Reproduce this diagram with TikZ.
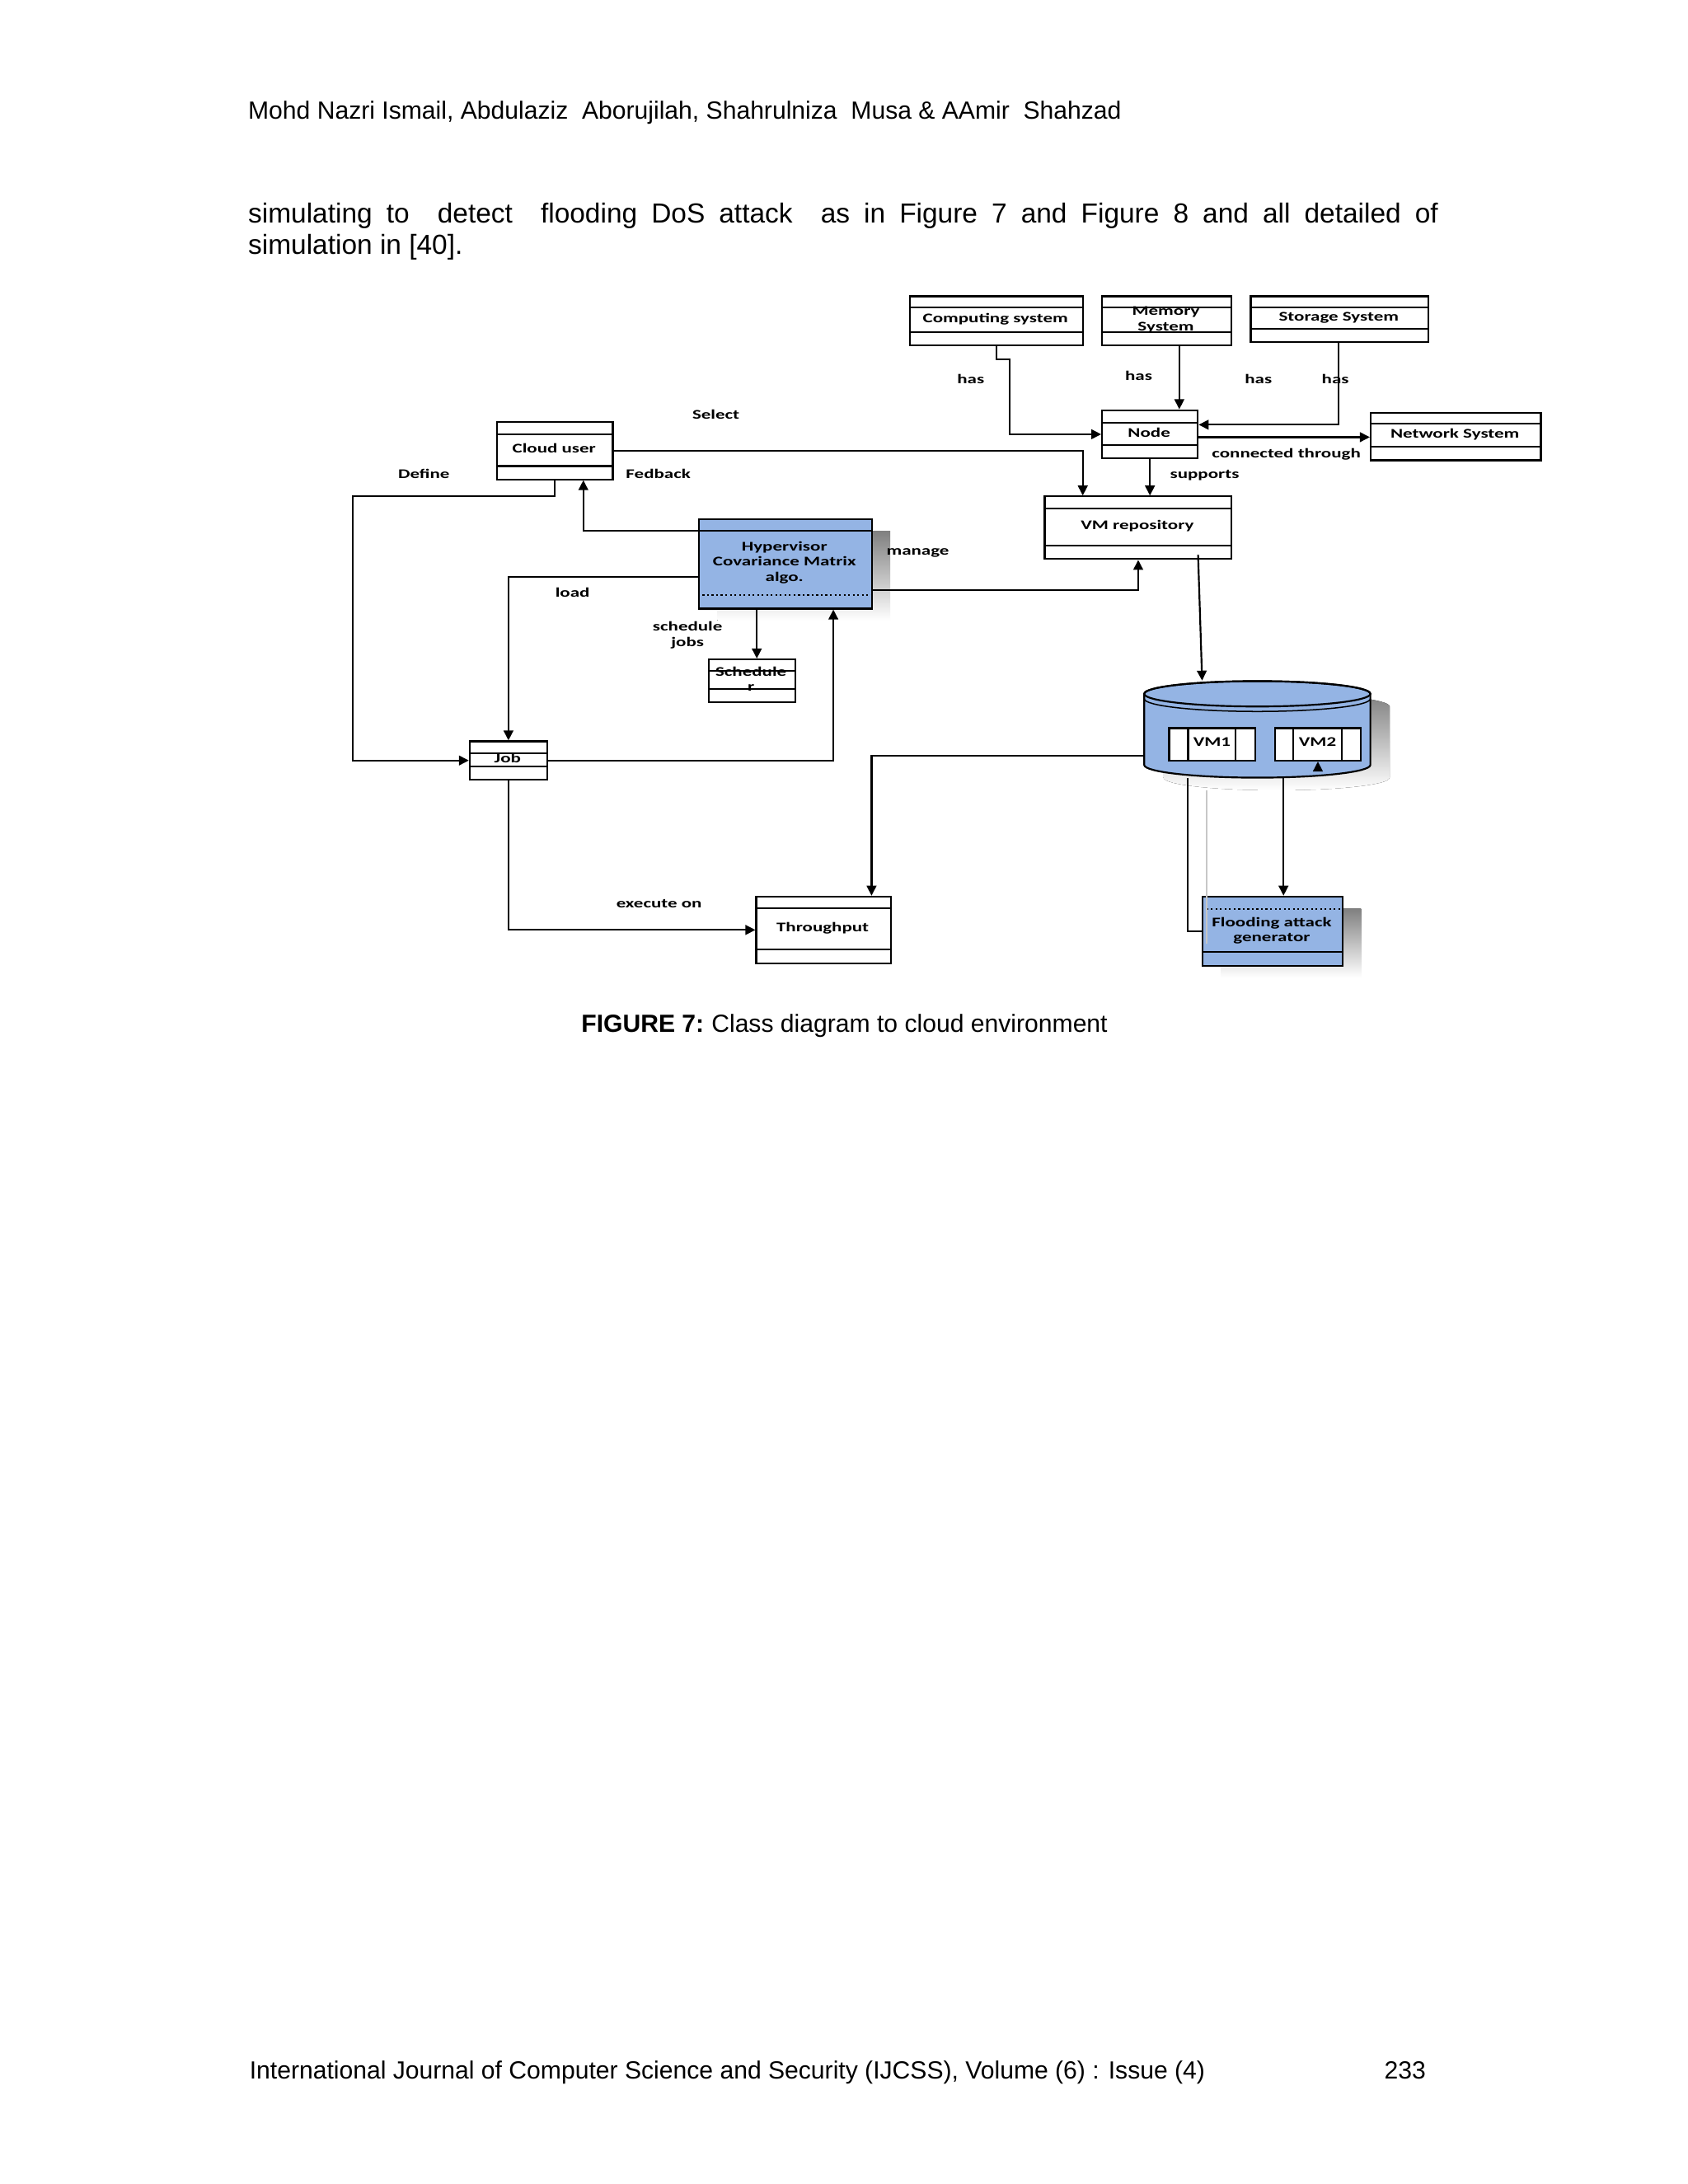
\documentclass[tikz,border=0pt]{standalone}
\usepackage{fontspec}
\setmainfont{Liberation Sans}
\newfontfamily\diagfont[FakeStretch=1.43]{Carlito}
\usetikzlibrary{arrows.meta}
\definecolor{hatch}{RGB}{148,180,228}
\definecolor{shade}{RGB}{192,192,192}
\tikzset{
  ln/.style={line width=0.65pt},
  arr/.style={ln,-{Triangle[length=3.6pt,width=3.5pt]}},
  lbl/.style={font=\diagfont\bfseries\fontsize{4.8}{5.5}\selectfont, inner sep=0pt, align=center},
  lbl1/.style={lbl, text height=3.2pt, text depth=1.0pt},
  umlframe/.style={draw, line width=0.65pt, fill=white, inner sep=0pt, anchor=north west},
  pagetext/.style={inner sep=0pt, anchor=base west}
}
% name, x, y, w, h, d1, d2, fill
\newcommand{\umlbox}[8]{%
  \node[umlframe, fill=#8, minimum width=#4pt, minimum height=#5pt] (#1) at (#2,#3) {};
  \draw[ln] ([yshift=-#6pt]#1.north west) -- ([yshift=-#6pt]#1.north east);
  \draw[ln] ([yshift=-#7pt]#1.north west) -- ([yshift=-#7pt]#1.north east);
}
\begin{document}
\begin{tikzpicture}[x=1pt,y=-1pt]
\useasboundingbox[fill=white] (0,0) rectangle (612,792);

% ---------- page text ----------
\node[pagetext, font=\fontsize{9}{11}\selectfont] (hdr) at (89.8,43.3)
  {Mohd Nazri Ismail, Abdulaziz~ Aborujilah, Shahrulniza~ Musa \& AAmir~ Shahzad};
\node[pagetext, font=\fontsize{10}{11.2}\selectfont] (body1) at (89.8,80.9)
  {\makebox[431.5pt][s]{simulating to~ detect~ flooding DoS attack~ as in Figure 7 and Figure 8 and all detailed of}};
\node[pagetext, font=\fontsize{10}{11.2}\selectfont] (body2) at (89.8,92.1)
  {simulation in [40].};
\node[inner sep=0pt, anchor=base, font=\fontsize{9}{11}\selectfont] (cap) at (306.2,374.4)
  {\textbf{FIGURE 7:}\kern0.3em Class diagram to cloud environment};
\node[pagetext, font=\fontsize{9}{11}\selectfont] (foot) at (90.3,754)
  {International Journal of Computer Science and Security (IJCSS), Volume (6) : Issue (4)};
\node[inner sep=0pt, anchor=base east, font=\fontsize{9}{11}\selectfont] (pg) at (517.2,754) {233};

% ---------- shadows ----------
\fill[shade] (260.1,192.5) rectangle (322.8,225.0);
\fill[shade] (442.8,329.4) rectangle (493.5,354.5);
\begin{scope}[shift={(7,4.6)}]
  \fill[shade] (414.9,251.6) -- (414.9,277.4)
     arc[start angle=180, end angle=360, x radius=41pt, y radius=4.6pt]
     -- (496.9,251.6)
     arc[start angle=0, end angle=180, x radius=41pt, y radius=4.6pt] -- cycle;
\end{scope}

% ---------- cylinder ----------
\filldraw[ln, fill=hatch] (414.9,251.6) -- (414.9,277.4)
   arc[start angle=180, end angle=360, x radius=41pt, y radius=4.6pt]
   -- (496.9,251.6)
   arc[start angle=0, end angle=180, x radius=41pt, y radius=4.6pt] -- cycle;
\draw[ln] (455.9,251.6) ellipse[x radius=41pt, y radius=4.6pt];
\draw[line width=0.45pt] (414.9,253.4) arc[start angle=180, end angle=360, x radius=41pt, y radius=4.6pt];
\node[inner sep=0pt, minimum width=82pt, minimum height=35pt] (cyl) at (455.9,264.5) {};

% VM boxes
\node[umlframe, minimum width=31.3pt, minimum height=11.8pt] (vm1) at (423.6,263.7) {};
\draw[ln] ([xshift=7.2pt]vm1.north west) -- ([xshift=7.2pt]vm1.south west);
\draw[ln] ([xshift=24.5pt]vm1.north west) -- ([xshift=24.5pt]vm1.south west);
\node[lbl1] (vm1t) at (439.45,269.6) {VM1};
\node[umlframe, minimum width=31.1pt, minimum height=11.8pt] (vm2) at (462.0,263.7) {};
\draw[ln] ([xshift=7.0pt]vm2.north west) -- ([xshift=7.0pt]vm2.south west);
\draw[ln] ([xshift=24.5pt]vm2.north west) -- ([xshift=24.5pt]vm2.south west);
\node[lbl1] (vm2t) at (477.75,269.6) {VM2};

% ---------- class boxes ----------
\umlbox{comp}{329.5}{107.1}{62.9}{17.9}{4.5}{13.4}{white}
\umlbox{mem}{399.3}{107.1}{46.9}{17.9}{4.5}{13.4}{white}
\umlbox{stor}{453.2}{107.1}{64.5}{16.6}{4.5}{12.2}{white}
\umlbox{node}{399.3}{148.4}{34.7}{17.5}{4.8}{13.0}{white}
\umlbox{net}{496.7}{149.4}{61.7}{17.2}{4.2}{12.5}{white}
\umlbox{vmrepo}{378.5}{179.7}{67.8}{22.7}{4.6}{18.1}{white}
\umlbox{cloud}{179.9}{152.8}{42.0}{20.7}{4.6}{16.2}{white}
\umlbox{sched}{256.6}{238.8}{31.4}{15.4}{4.4}{11.0}{white}
\umlbox{job}{170.0}{268.5}{28.1}{13.9}{4.7}{9.4}{white}
\umlbox{thr}{273.9}{324.8}{48.8}{24.2}{4.6}{19.6}{white}

% hypervisor (filled)
\node[umlframe, fill=hatch, minimum width=62.7pt, minimum height=32.5pt] (hyper) at (253.1,187.9) {};
\draw[ln] ([yshift=-4.5pt]hyper.north west) -- ([yshift=-4.5pt]hyper.north east);
\draw[ln, densely dotted] ([yshift=-28pt]hyper.north west) -- ([yshift=-28pt]hyper.north east);
% flooding generator (filled)
\node[umlframe, fill=hatch, minimum width=50.7pt, minimum height=25.1pt] (flood) at (435.8,324.8) {};
\draw[ln, densely dotted] ([yshift=-4.8pt]flood.north west) -- ([yshift=-4.8pt]flood.north east);
\draw[ln] ([yshift=-20.4pt]flood.north west) -- ([yshift=-20.4pt]flood.north east);

% ---------- box texts ----------
\node[lbl1] (compt) at (360.95,116.05) {Computing system};
\node[lbl] (memt) at (422.75,116.0) {Memory\\System};
\node[lbl1] (stort) at (485.45,115.45) {Storage System};
\node[lbl1] (nodet) at (416.65,157.3) {Node};
\node[lbl1] (nett) at (527.55,157.75) {Network System};
\node[lbl1] (vmrepot) at (412.4,191.05) {VM repository};
\node[lbl1] (cloudt) at (200.9,163.2) {Cloud user};
\node[lbl] (hypert) at (284.45,204.0) {Hypervisor\\Covariance Matrix\\algo.};
\node[lbl] (schedt) at (272.3,246.3) {Schedule\\r};
\node[lbl1] (jobt) at (184.05,275.55) {Job};
\node[lbl1] (thrt) at (298.3,336.9) {Throughput};
\node[lbl] (floodt) at (461.15,337.45) {Flooding attack\\generator};

% ---------- connectors ----------
\draw[arr] ([xshift=0.15pt]comp.south) -- ++(0,4.7) -| ([xshift=-33.1pt]node.west) -- (node.west);
\draw[arr] ([xshift=4.55pt]mem.south) -- ([xshift=4.55pt]mem.south |- node.north);
\draw[arr] ([xshift=-0.35pt]stor.south) |- ([yshift=3.45pt]node.east);
\draw[arr] ([yshift=-1.05pt]node.east) -- ([yshift=-1.05pt]node.east -| net.west);
\draw[arr] (node.south) -- (node.south |- vmrepo.north);
\draw[arr] (cloud.east) -| ([xshift=-20.1pt]vmrepo.north);
\draw[arr] (cloud.south) -- ++(0,5.8) -| ([xshift=-42.2pt]job.west) -- (job.west);
\draw[arr] ([yshift=-4.5pt]hyper.north west) -| ([xshift=10.3pt]cloud.south);
\draw[arr] ([yshift=-21.4pt]hyper.north west) -| (job.north);
\draw[arr] ([yshift=-26.1pt]hyper.north east) -| (vmrepo.south);
\draw[arr] ([xshift=-10.35pt]hyper.south) -- ([xshift=-10.35pt]hyper.south |- sched.north);
\draw[arr] (job.east) -| ([xshift=17.4pt]hyper.south);
\draw[arr] (job.south) |- (thr.west);
\draw[arr] ([xshift=21.7pt,yshift=1.9pt]vmrepo.south) -- ([xshift=-20pt]cyl.north);
\draw[arr] ([yshift=-9.5pt]cyl.west) -| ([xshift=17.4pt]thr.north);
\draw[arr] ([xshift=9.5pt]cyl.south) -- ([xshift=9.5pt]cyl.south |- flood.north);
\draw[arr] ([yshift=-3.5pt]vm2.south) -- (vm2.south);
\draw[ln] ([xshift=-25.3pt]cyl.south) |- (flood.west);
\draw[line width=0.45pt, black!22] ([xshift=-18.4pt,yshift=-4.4pt]cyl.south) -- ++(0,55.6);

% ---------- connector labels ----------
\node[lbl1] (has1) at (352,138) {has};
\node[lbl1] (has2) at (412.9,136.7) {has};
\node[lbl1] (has3) at (456.3,138) {has};
\node[lbl1] (has4) at (484.2,138) {has};
\node[lbl1] (conn) at (466.4,165) {connected through};
\node[lbl1] (supp) at (436.8,172.3) {supports};
\node[lbl1] (sel) at (259.6,150.9) {Select};
\node[lbl1] (def) at (153.7,172.4) {Define};
\node[lbl1] (fed) at (238.7,172.4) {Fedback};
\node[lbl1] (man) at (332.8,200.2) {manage};
\node[lbl1] (load) at (207.6,215.5) {load};
\node[lbl] (schj) at (249.3,230.3) {schedule\\jobs};
\node[lbl1] (exe) at (239,328) {execute on};
\end{tikzpicture}
\end{document}
